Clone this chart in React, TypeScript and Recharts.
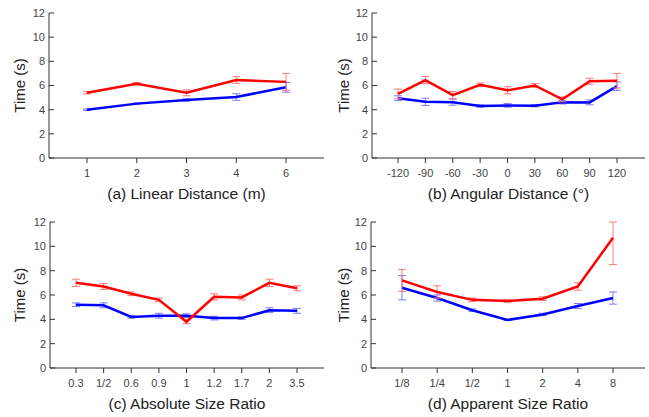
import { LineChart, Line, XAxis, YAxis, ErrorBar } from "recharts";

const Y_TICKS = [0, 2, 4, 6, 8, 10, 12];

// (a) linear distance
const LIN_CATS = ["1", "2", "3", "4", "6"];
const LIN_RED = [5.4, 6.15, 5.4, 6.45, 6.3];
const LIN_RED_ERR = [0.1, 0.1, 0.25, 0.28, 0.7];
const LIN_BLUE = [4.0, 4.5, 4.8, 5.05, 5.85];
const LIN_BLUE_ERR = [0.06, 0.05, 0.1, 0.27, 0.4];

// (b) angular distance
const ANG_CATS = ["-120", "-90", "-60", "-30", "0", "30", "60", "90", "120"];
const ANG_RED = [5.3, 6.45, 5.2, 6.05, 5.6, 6.0, 4.85, 6.35, 6.4];
const ANG_RED_ERR = [0.4, 0.3, 0.3, 0.15, 0.3, 0.15, 0.2, 0.25, 0.6];
const ANG_BLUE = [4.95, 4.65, 4.62, 4.3, 4.35, 4.33, 4.62, 4.6, 5.95];
const ANG_BLUE_ERR = [0.2, 0.3, 0.25, 0.1, 0.15, 0.1, 0.15, 0.2, 0.35];

// (c) absolute size ratio
const ABS_CATS = ["0.3", "1/2", "0.6", "0.9", "1", "1.2", "1.7", "2", "3.5"];
const ABS_RED = [7.0, 6.7, 6.1, 5.6, 3.8, 5.85, 5.8, 7.0, 6.55];
const ABS_RED_ERR = [0.3, 0.25, 0.15, 0.15, 0.15, 0.25, 0.2, 0.3, 0.2];
const ABS_BLUE = [5.2, 5.15, 4.2, 4.3, 4.3, 4.1, 4.1, 4.75, 4.7];
const ABS_BLUE_ERR = [0.15, 0.2, 0.1, 0.2, 0.15, 0.15, 0.1, 0.2, 0.2];

// (d) apparent size ratio  (last red bar is lopsided: [below, above])
const APP_CATS = ["1/8", "1/4", "1/2", "1", "2", "4", "8"];
const APP_RED = [7.2, 6.25, 5.6, 5.5, 5.7, 6.7, 10.7];
const APP_RED_ERR: (number | number[])[] = [0.9, 0.5, 0.15, 0.1, 0.15, 0.3, [2.2, 1.3]];
const APP_BLUE = [6.6, 5.75, 4.75, 3.95, 4.4, 5.1, 5.75];
const APP_BLUE_ERR = [1.0, 0.25, 0.1, 0.05, 0.1, 0.2, 0.5];

const FONT = "'Liberation Sans', Arial, sans-serif";
const AXIS = "#333";
const TEXT = "#444";

function rows(cats: string[], red: number[], redErr: any[], blue: number[], blueErr: any[]) {
  return cats.map((c, i) => ({
    label: c,
    red: red[i],
    redErr: redErr[i],
    blue: blue[i],
    blueErr: blueErr[i],
  }));
}

// y ticks point into the plot, labels sit left of the axis
function YTick(props: any) {
  const { x, y, payload } = props;
  return (
    <g>
      <line x1={x + 4} x2={x + 9} y1={y} y2={y} stroke={AXIS} />
      <text x={x} y={y} dy="0.35em" textAnchor="end" fontSize={11} fill={TEXT} fontFamily={FONT}>
        {payload.value}
      </text>
    </g>
  );
}

function YTitle(props: any) {
  const vb = props.viewBox;
  const cx = vb.x + 19;
  const cy = vb.y + vb.height / 2;
  return (
    <text
      x={cx}
      y={cy}
      transform={`rotate(-90 ${cx} ${cy})`}
      textAnchor="middle"
      dominantBaseline="central"
      fontSize={15}
      fill="#222"
      fontFamily={FONT}
    >
      Time (s)
    </text>
  );
}

interface PanelProps {
  left: number;
  top: number;
  width: number;
  height: number;
  yWidth: number;
  marginTop: number;
  xHeight: number;
  padL: number;
  padR: number;
  titleOffset: number;
  title: string;
  data: any[];
}

function Panel(p: PanelProps) {
  return (
    <div style={{ position: "absolute", left: p.left, top: p.top }}>
      <LineChart
        width={p.width}
        height={p.height}
        data={p.data}
        margin={{ top: p.marginTop, right: 0, bottom: 0, left: 0 }}
      >
        <XAxis
          dataKey="label"
          interval={0}
          height={p.xHeight}
          padding={{ left: p.padL, right: p.padR }}
          axisLine={{ stroke: AXIS }}
          tickLine={{ stroke: AXIS }}
          tickSize={5}
          tickMargin={6}
          tick={{ fontSize: 11, fill: TEXT, fontFamily: FONT }}
          label={{
            value: p.title,
            position: "insideBottom",
            offset: p.titleOffset,
            style: { fontSize: 15.5, fill: "#222", fontFamily: FONT },
          }}
        />
        <YAxis
          domain={[0, 12]}
          ticks={Y_TICKS}
          interval={0}
          width={p.yWidth}
          axisLine={{ stroke: AXIS }}
          tickLine={false}
          tickSize={0}
          tickMargin={4}
          tick={<YTick />}
          label={<YTitle />}
        />
        <Line
          dataKey="blue"
          stroke="#0000ff"
          strokeWidth={2.5}
          dot={false}
          isAnimationActive={false}
        >
          <ErrorBar dataKey="blueErr" direction="y" width={4} stroke="#7a7aff" strokeWidth={1} />
        </Line>
        <Line
          dataKey="red"
          stroke="#ff0000"
          strokeWidth={2.5}
          dot={false}
          isAnimationActive={false}
        >
          <ErrorBar dataKey="redErr" direction="y" width={4} stroke="#ff7a7a" strokeWidth={1} />
        </Line>
      </LineChart>
    </div>
  );
}

export default function App() {
  return (
    <div
      style={{
        position: "absolute",
        left: 0,
        top: 0,
        width: 649,
        height: 417,
        background: "#fff",
        overflow: "hidden",
      }}
    >
      <Panel
        left={0}
        top={0}
        width={324}
        height={205}
        yWidth={49}
        marginTop={13}
        xHeight={47}
        padL={38}
        padR={38}
        titleOffset={6}
        title="(a) Linear Distance (m)"
        data={rows(LIN_CATS, LIN_RED, LIN_RED_ERR, LIN_BLUE, LIN_BLUE_ERR)}
      />
      <Panel
        left={324}
        top={0}
        width={321}
        height={205}
        yWidth={48}
        marginTop={13}
        xHeight={47}
        padL={26}
        padR={28}
        titleOffset={6}
        title="(b) Angular Distance (°)"
        data={rows(ANG_CATS, ANG_RED, ANG_RED_ERR, ANG_BLUE, ANG_BLUE_ERR)}
      />
      <Panel
        left={0}
        top={205}
        width={324}
        height={212}
        yWidth={50}
        marginTop={17}
        xHeight={49}
        padL={26}
        padR={27}
        titleOffset={8}
        title="(c) Absolute Size Ratio"
        data={rows(ABS_CATS, ABS_RED, ABS_RED_ERR, ABS_BLUE, ABS_BLUE_ERR)}
      />
      <Panel
        left={324}
        top={205}
        width={321}
        height={212}
        yWidth={47}
        marginTop={17}
        xHeight={49}
        padL={31}
        padR={32}
        titleOffset={8}
        title="(d) Apparent Size Ratio"
        data={rows(APP_CATS, APP_RED, APP_RED_ERR, APP_BLUE, APP_BLUE_ERR)}
      />
    </div>
  );
}
